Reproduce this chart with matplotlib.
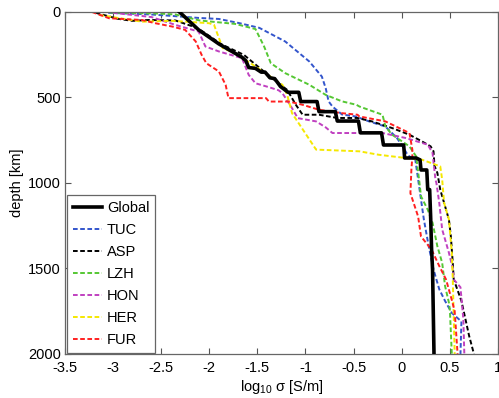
import numpy as np
import matplotlib
matplotlib.use("Agg")
import matplotlib.pyplot as plt

plt.rcParams['font.family'] = ['Liberation Sans', 'DejaVu Sans']
plt.rcParams['axes.unicode_minus'] = False
plt.rcParams['mathtext.fontset'] = 'custom'
plt.rcParams['mathtext.rm'] = 'Liberation Sans'

# log10 conductivity [S/m] vs depth [km]
glob_sig = [-2.31, -2.11, -1.90, -1.66, -1.62, -1.59, -1.52, -1.46, -1.42, -1.37, -1.32, -1.26,
            -1.18, -1.07, -1.05, -0.88, -0.86, -0.69, -0.67, -0.45, -0.43, -0.21, -0.19, 0.02,
            0.03, 0.15, 0.19, 0.20, 0.26, 0.27, 0.29, 0.30, 0.31, 0.32, 0.335]
glob_dep = [0, 105, 187, 265, 285, 325, 330, 352, 352, 385, 390, 436,
            470, 470, 524, 524, 583, 583, 638, 638, 707, 707, 778, 778,
            854, 854, 865, 924, 924, 1039, 1039, 1195, 1389, 1505, 2000]

tuc_sig = [-3.05, -2.60, -2.42, -2.11, -1.90, -1.69, -1.48, -1.21, -0.96, -0.83, -0.79, -0.76,
           -0.72, -0.62, -0.48, -0.34, -0.17, -0.05, 0.02, 0.06, 0.08, 0.14, 0.20, 0.23,
           0.28, 0.33, 0.35, 0.39, 0.45, 0.52, 0.62, 0.61]
tuc_dep = [5, 15, 22, 35, 41, 65, 93, 173, 290, 378, 446, 523,
           553, 600, 611, 640, 670, 737, 796, 835, 845, 860, 1097, 1214,
           1370, 1505, 1545, 1622, 1690, 1760, 1810, 2000]

asp_sig = [-3.18, -2.95, -2.80, -2.62, -2.35, -2.17, -2.08, -1.87, -1.64, -1.45, -1.25, -1.19,
           -1.10, -1.03, -0.86, -0.67, -0.46, -0.31, -0.10, 0.08, 0.21, 0.30, 0.33, 0.34,
           0.37, 0.40, 0.45, 0.49, 0.51, 0.53, 0.54, 0.62, 0.70, 0.75]
asp_dep = [5, 40, 52, 47, 50, 85, 110, 190, 251, 340, 430, 456,
           543, 601, 601, 620, 620, 640, 679, 718, 757, 786, 815, 900,
           941, 1039, 1136, 1214, 1311, 1467, 1564, 1690, 1894, 2000]

lzh_sig = [-3.03, -2.50, -2.35, -2.10, -1.73, -1.52, -1.43, -1.36, -1.21, -0.96, -0.79, -0.62,
           -0.47, -0.44, -0.20, -0.17, -0.10, 0.08, 0.15, 0.18, 0.20, 0.27, 0.32, 0.37,
           0.42, 0.45, 0.49, 0.50, 0.52]
lzh_dep = [4, 10, 15, 50, 70, 100, 202, 300, 358, 426, 485, 523,
           543, 553, 601, 670, 718, 786, 845, 980, 1078, 1156, 1233, 1370,
           1467, 1603, 1700, 1743, 2000]

hon_sig = [-3.00, -2.60, -2.35, -2.11, -2.04, -1.90, -1.66, -1.59, -1.52, -1.38, -1.28, -1.24,
           -1.15, -1.08, -0.89, -0.79, -0.72, -0.20, 0.04, 0.27, 0.32, 0.35, 0.36, 0.39,
           0.42, 0.49, 0.53, 0.54, 0.61, 0.64, 0.65]
hon_dep = [5, 30, 76, 115, 202, 231, 270, 368, 417, 440, 458, 475,
           553, 621, 640, 675, 708, 708, 737, 776, 825, 980, 1000, 1117,
           1272, 1408, 1500, 1564, 1610, 1797, 2000]

her_sig = [-3.14, -2.70, -2.38, -2.00, -1.95, -1.86, -1.73, -1.52, -1.24, -1.19, -1.14, -0.89,
           -0.44, -0.24, 0.04, 0.21, 0.40, 0.42, 0.44, 0.49, 0.52, 0.53, 0.55]
her_dep = [18, 57, 52, 66, 76, 212, 241, 319, 426, 485, 592, 805,
           815, 835, 854, 864, 903, 980, 1117, 1214, 1408, 1560, 2000]

fur_sig = [-3.22, -3.04, -2.70, -2.56, -2.38, -2.25, -2.14, -2.08, -2.03, -1.90, -1.83, -1.80,
           -1.41, -1.38, -1.17, -1.03, -0.86, -0.62, -0.46, -0.44, -0.17, 0.08, 0.11, 0.11,
           0.10, 0.09, 0.17, 0.20, 0.31, 0.39, 0.46, 0.52, 0.55, 0.58]
fur_dep = [0, 37, 47, 66, 86, 105, 173, 250, 300, 348, 426, 504,
           504, 524, 524, 543, 572, 592, 601, 611, 640, 708, 805, 846,
           923, 1060, 1196, 1313, 1390, 1486, 1564, 1684, 1750, 2000]

stations = [
    ('TUC', tuc_sig, tuc_dep, '#3355cc'),
    ('ASP', asp_sig, asp_dep, '#000000'),
    ('LZH', lzh_sig, lzh_dep, '#55c733'),
    ('HON', hon_sig, hon_dep, '#c040c0'),
    ('HER', her_sig, her_dep, '#f5e800'),
    ('FUR', fur_sig, fur_dep, '#ff2020'),
]

fig = plt.figure(figsize=(4.99, 3.98), dpi=100)
ax = fig.add_axes([0.130, 0.1106, 0.868, 0.8594])

ax.plot(glob_sig, glob_dep, color='k', lw=2.6, label='Global', zorder=5)
for name, s, d, c in stations:
    ax.plot(s, d, color=c, lw=1.4, ls=(0, (2.4, 1.3)), label=name)

ax.set_xlim(-3.5, 1)
ax.set_ylim(2000, 0)
xt = np.arange(-3.5, 1.01, 0.5)
ax.set_xticks(xt)
ax.set_xticklabels(['%g' % v for v in xt])
ax.set_yticks([0, 500, 1000, 1500, 2000])
ax.tick_params(direction='in', top=True, right=True, labelsize=10.5, length=4, width=0.8,
               color='#555555')
ax.tick_params(axis='x', pad=5)
ax.tick_params(axis='y', pad=3)
for sp in ax.spines.values():
    sp.set_color('#666666')
    sp.set_linewidth(0.9)

ax.set_xlabel(r'log$_{10}$ σ [S/m]', fontsize=10.5, labelpad=2)
ax.set_ylabel('depth [km]', fontsize=10.5, labelpad=3)

leg = ax.legend(loc='lower left', bbox_to_anchor=(0.006, 0.004), fontsize=10.5,
                handlelength=2.0, handletextpad=0.3, labelspacing=0.55,
                borderpad=0.4, fancybox=False, framealpha=1, borderaxespad=0)
leg.get_frame().set_edgecolor('#666666')
leg.get_frame().set_linewidth(0.9)

fig.savefig('out.png', dpi=100)
